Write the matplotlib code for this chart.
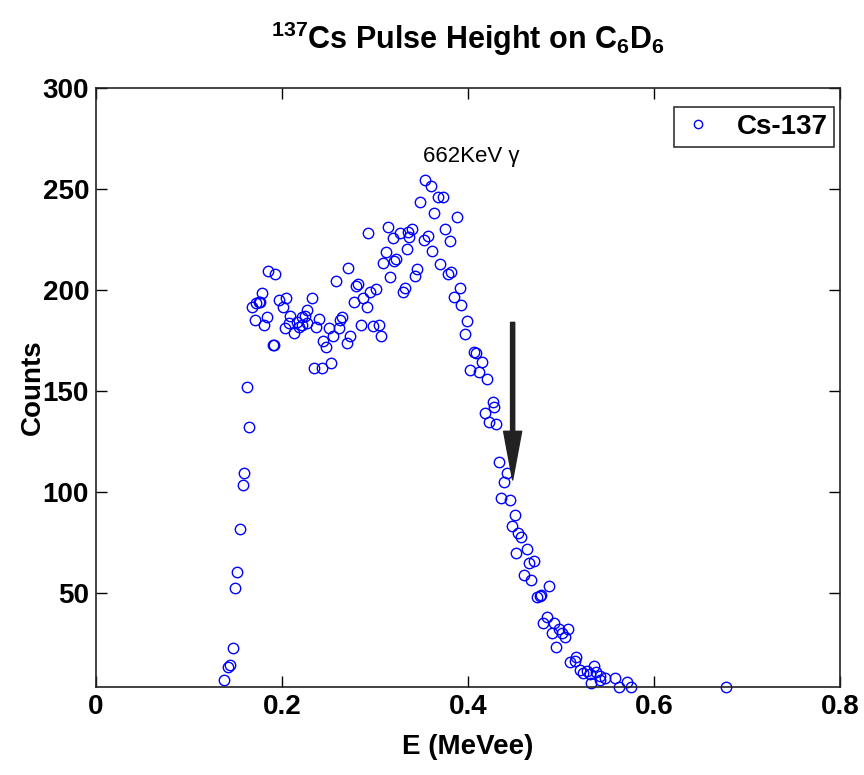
import matplotlib
matplotlib.use("Agg")
import matplotlib.pyplot as plt
from matplotlib import font_manager as fm

names = {f.name for f in fm.fontManager.ttflist}
FONT = "Liberation Sans Narrow" if "Liberation Sans Narrow" in names else "Liberation Sans"
plt.rcParams["font.family"] = [FONT, "DejaVu Sans"]
plt.rcParams["mathtext.fontset"] = "custom"
plt.rcParams["mathtext.bf"] = FONT + ":bold"
plt.rcParams["mathtext.rm"] = FONT + ":bold"
plt.rcParams["mathtext.default"] = "bf"

energy = [0.138, 0.142, 0.144, 0.147, 0.149, 0.152, 0.155, 0.158, 0.159, 0.162, 0.165,
          0.168, 0.171, 0.172, 0.175, 0.176, 0.178, 0.181, 0.184, 0.185, 0.192, 0.190, 0.191,
          0.197, 0.204, 0.201, 0.203, 0.207, 0.209, 0.213, 0.216, 0.218, 0.221, 0.222, 0.225,
          0.227, 0.227, 0.232, 0.234, 0.243, 0.237, 0.240, 0.244, 0.247, 0.250, 0.253, 0.255,
          0.258, 0.261, 0.262, 0.265, 0.270, 0.273, 0.271, 0.277, 0.280, 0.282, 0.285, 0.287,
          0.291, 0.292, 0.295, 0.301, 0.298, 0.304, 0.306, 0.309, 0.312, 0.314, 0.316, 0.319,
          0.320, 0.323, 0.327, 0.330, 0.332, 0.335, 0.334, 0.337, 0.340, 0.343, 0.345, 0.348,
          0.353, 0.357, 0.354, 0.360, 0.361, 0.363, 0.368, 0.373, 0.370, 0.375, 0.379, 0.382,
          0.381, 0.388, 0.391, 0.385, 0.393, 0.399, 0.397, 0.406, 0.409, 0.415, 0.402, 0.412,
          0.420, 0.427, 0.428, 0.418, 0.423, 0.430, 0.433, 0.442, 0.439, 0.436, 0.445, 0.450,
          0.447, 0.454, 0.457, 0.463, 0.452, 0.466, 0.471, 0.460, 0.468, 0.487, 0.474, 0.477,
          0.479, 0.485, 0.481, 0.492, 0.490, 0.498, 0.501, 0.508, 0.504, 0.495, 0.510, 0.516,
          0.515, 0.520, 0.524, 0.528, 0.531, 0.535, 0.538, 0.542, 0.547, 0.532, 0.542, 0.558,
          0.562, 0.571, 0.575, 0.677]
counts = [6.9, 13.2, 14.4, 22.6, 52.3, 60.5, 81.5, 103.5, 109.3, 151.8, 132.0,
          191.7, 185.1, 193.4, 194.2, 194.0, 198.4, 182.7, 186.8, 209.6, 207.9, 172.8, 172.8,
          195.0, 195.9, 191.4, 181.0, 183.5, 187.1, 178.6, 184.3, 181.8, 186.8, 182.7, 187.1,
          190.1, 183.5, 195.9, 161.2, 161.2, 181.5, 185.5, 174.9, 171.9, 181.0, 164.0, 177.2,
          204.6, 181.0, 185.1, 186.8, 173.6, 177.2, 210.9, 194.2, 202.0, 203.0, 182.7, 195.9,
          191.4, 228.0, 199.2, 200.3, 182.2, 182.7, 177.2, 213.5, 219.0, 231.0, 206.3, 225.6,
          214.5, 215.2, 228.0, 199.2, 200.8, 228.9, 220.1, 226.4, 230.0, 206.9, 210.2, 243.4,
          224.8, 226.7, 254.5, 251.5, 219.3, 238.3, 246.2, 246.2, 212.7, 230.3, 207.9, 209.1,
          224.4, 236.0, 200.8, 196.4, 192.6, 184.8, 178.1, 169.5, 168.7, 164.5, 160.4, 159.6,
          155.8, 144.7, 141.9, 139.0, 134.8, 133.7, 115.0, 109.3, 105.1, 97.3, 96.2, 88.4,
          83.2, 79.7, 77.6, 71.8, 69.7, 64.9, 65.7, 58.9, 56.3, 53.3, 48.0, 48.5,
          48.8, 38.1, 35.3, 35.3, 30.3, 32.0, 30.0, 32.0, 28.4, 23.1, 16.0, 18.2,
          16.5, 11.9, 10.2, 11.5, 9.9, 13.9, 11.0, 8.9, 7.8, 5.3, 6.9, 7.8,
          3.6, 6.1, 3.6, 3.6]

xticks = [0, 0.2, 0.4, 0.6, 0.8]
xtick_labels = ["0", "0.2", "0.4", "0.6", "0.8"]
yticks = [50, 100, 150, 200, 250, 300]

fig = plt.figure(figsize=(8.64, 7.75), dpi=100)
ax = fig.add_axes([96 / 864, 1 - 687 / 775, 744 / 864, 599 / 775])

ax.plot(energy, counts, linestyle="none", marker="o", markersize=7.5,
        markerfacecolor="none", markeredgecolor=(0, 0, 1), markeredgewidth=1.0,
        label="Cs-137", clip_on=False)

ax.set_xlim(0, 0.8)
ax.set_ylim(3.5, 300)
ax.set_xticks(xticks)
ax.set_xticklabels(xtick_labels)
ax.set_yticks(yticks)
ax.tick_params(direction="in", length=8, width=1, top=True, right=True,
               labelsize=20, pad=5)
for lab in ax.get_xticklabels() + ax.get_yticklabels():
    lab.set_fontweight("bold")
for sp in ax.spines.values():
    sp.set_linewidth(1.2)
    sp.set_color("#222222")

ax.set_xlabel("E (MeVee)", fontsize=20, fontweight="bold", labelpad=10)
ax.set_ylabel("Counts", fontsize=20, fontweight="bold")
ax.yaxis.set_label_coords(-0.068, 0.5)
ax.set_title(r"$^{137}$Cs Pulse Height on C$_6$D$_6$", fontsize=22,
             fontweight="bold", pad=28)

ax.text(0.403, 266, "662KeV γ", fontsize=16, ha="center", va="center",
        color="black")

ax.annotate("", xy=(0.448, 106), xytext=(0.448, 184),
            arrowprops=dict(facecolor="#222222", edgecolor="#222222",
                            width=3, headwidth=13, headlength=35, shrink=0))

leg = ax.legend(loc="upper right", fontsize=20, frameon=True, fancybox=False,
                edgecolor="black", handlelength=1.2, handletextpad=0.8,
                borderpad=0.25, borderaxespad=0.15, markerscale=0.8,
                bbox_to_anchor=(0.998, 0.975))
leg.get_frame().set_linewidth(1.2)
for t in leg.get_texts():
    t.set_fontweight("bold")

fig.savefig("out.png", dpi=100)
